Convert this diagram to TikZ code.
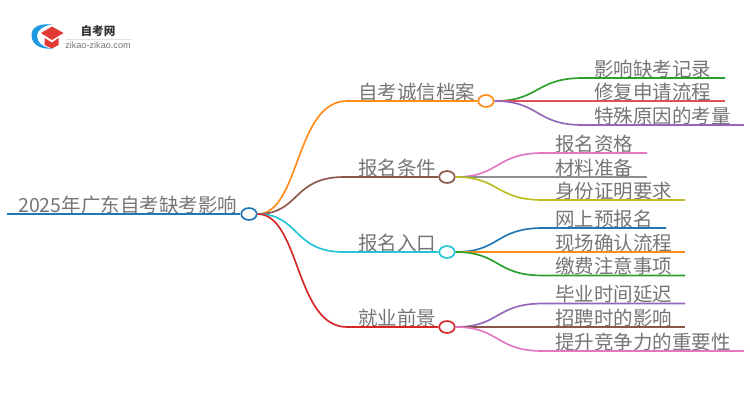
\documentclass[tikz,border=0pt]{standalone}
\usepackage{fontspec}
\setmainfont{Noto Sans CJK SC}
\newfontfamily\latinfont{Liberation Sans}
\usetikzlibrary{shapes.geometric}
\definecolor{txtgray}{HTML}{757575}
\definecolor{cblue}{HTML}{1F78B4}
\definecolor{corange}{HTML}{FF8C1A}
\definecolor{cbrown}{HTML}{8C564B}
\definecolor{cteal}{HTML}{22C4D8}
\definecolor{cred}{HTML}{D62728}
\definecolor{cgreen}{HTML}{2CA02C}
\definecolor{cpurple}{HTML}{9467BD}
\definecolor{cpink}{HTML}{E377C2}
\definecolor{cgray}{HTML}{8F8F8F}
\definecolor{colive}{HTML}{BCBD22}
\definecolor{logoblue}{HTML}{1E9BE0}
\definecolor{logored}{HTML}{E23B36}
\tikzset{
  hub/.style={draw=#1, fill=white, ellipse, line width=0.95pt, minimum width=8.8pt, minimum height=6.8pt, inner sep=0pt},
  lbl/.style={anchor=base west, inner sep=0pt, text=txtgray, font=\fontsize{11.1pt}{12pt}\selectfont},
  link/.style={draw=#1, line width=0.95pt},
}

\begin{document}
\begin{tikzpicture}[x=0.02cm, y=-0.02cm]
  \useasboundingbox (0,0) rectangle (750,410);

  % Logo
  \fill[logoblue] (52,24.5) .. controls (38,23) and (31,28) .. (31.5,36) .. controls (32,44) and (40,50) .. (53,48.5) .. controls (44,48) and (37,43) .. (37,36) .. controls (37,30) and (43,26) .. (52,24.5) -- cycle;
  \fill[logored] (52,26.5) -- (63.5,33) -- (52,40) -- (41,33) -- cycle;
  \fill[logored] (44.5,38) -- (52,42.5) -- (58.5,38) -- (58.5,45) -- (52,48.5) -- (44.5,45) -- cycle;
  \node[inner sep=0pt, text=black!80, font=\fontsize{6.6pt}{7pt}\selectfont\bfseries] (logotitle) at (98,31) {自考网};
  \node[inner sep=0pt, text=txtgray, font=\fontsize{5.2pt}{6pt}\selectfont\latinfont] (logosub) at (98,45) {zikao-zikao.com};
  \draw[black!12, line width=0.3pt] (66,39) -- (131,39);

  % Root
  \coordinate (rootstart) at (7,214);
  \node[hub=cblue] (root) at (249,214) {};
  \node[lbl] (roottxt) at (18,212) {2025年广东自考缺考影响};
  \draw[link=cblue] (rootstart) -- (root);

  % Branch nodes
  \node[hub=corange] (dangan) at (486,101) {};
  \node[hub=cbrown] (tiaojian) at (447,177) {};
  \node[hub=cteal] (rukou) at (447,252) {};
  \node[hub=cred] (jiuye) at (447,327) {};
  \node[lbl] (dangantxt) at (358,99) {自考诚信档案};
  \node[lbl] (tiaojiantxt) at (358,175) {报名条件};
  \node[lbl] (rukoutxt) at (358,250) {报名入口};
  \node[lbl] (jiuyetxt) at (358,325) {就业前景};
  \coordinate (danganknee) at (347,101);
  \coordinate (tiaojianknee) at (344,177);
  \coordinate (rukouknee) at (344,252);
  \coordinate (jiuyeknee) at (347,327);
  \draw[link=corange] (root.east) .. controls (300,214) and (295,101) .. (danganknee) -- (dangan);
  \draw[link=cbrown] (root.east) .. controls (300,214) and (292,177) .. (tiaojianknee) -- (tiaojian);
  \draw[link=cteal] (root.east) .. controls (300,214) and (292,252) .. (rukouknee) -- (rukou);
  \draw[link=cred] (root.east) .. controls (300,214) and (295,327) .. (jiuyeknee) -- (jiuye);

  % Leaves of the first branch
  \node[lbl] (a1) at (594,76) {影响缺考记录};
  \node[lbl] (a2) at (594,99) {修复申请流程};
  \node[lbl] (a3) at (594,123) {特殊原因的考量};
  \coordinate (a1k) at (583,78);
  \coordinate (a2k) at (583,101);
  \coordinate (a3k) at (583,125);
  \coordinate (a1e) at (725,78);
  \coordinate (a2e) at (725,101);
  \coordinate (a3e) at (744,125);
  \draw[link=cgreen] (dangan.east) .. controls (540,101) and (535,78) .. (a1k) -- (a1e);
  \draw[link=cred!80] (dangan.east) -- (a2k) -- (a2e);
  \draw[link=cpurple] (dangan.east) .. controls (540,101) and (535,125) .. (a3k) -- (a3e);

  % Leaves of the second branch
  \node[lbl] (b1) at (555,151) {报名资格};
  \node[lbl] (b2) at (555,175) {材料准备};
  \node[lbl] (b3) at (555,198) {身份证明要求};
  \coordinate (b1k) at (543,153);
  \coordinate (b2k) at (543,177);
  \coordinate (b3k) at (543,200);
  \coordinate (b1e) at (647,153);
  \coordinate (b2e) at (647,177);
  \coordinate (b3e) at (685,200);
  \draw[link=cpink] (tiaojian.east) .. controls (500,177) and (495,153) .. (b1k) -- (b1e);
  \draw[link=cgray] (tiaojian.east) -- (b2k) -- (b2e);
  \draw[link=colive] (tiaojian.east) .. controls (500,177) and (495,200) .. (b3k) -- (b3e);

  % Leaves of the third branch
  \node[lbl] (c1) at (555,226) {网上预报名};
  \node[lbl] (c2) at (555,250) {现场确认流程};
  \node[lbl] (c3) at (555,273) {缴费注意事项};
  \coordinate (c1k) at (543,228);
  \coordinate (c2k) at (543,252);
  \coordinate (c3k) at (543,275.5);
  \coordinate (c1e) at (666,228);
  \coordinate (c2e) at (685,252);
  \coordinate (c3e) at (685,275.5);
  \draw[link=cblue] (rukou.east) .. controls (500,252) and (495,228) .. (c1k) -- (c1e);
  \draw[link=corange] (rukou.east) -- (c2k) -- (c2e);
  \draw[link=cgreen] (rukou.east) .. controls (500,252) and (495,275.5) .. (c3k) -- (c3e);

  % Leaves of the fourth branch
  \node[lbl] (d1) at (555,301.5) {毕业时间延迟};
  \node[lbl] (d2) at (555,325) {招聘时的影响};
  \node[lbl] (d3) at (555,349) {提升竞争力的重要性};
  \coordinate (d1k) at (543,303.5);
  \coordinate (d2k) at (543,327);
  \coordinate (d3k) at (543,351);
  \coordinate (d1e) at (685,303.5);
  \coordinate (d2e) at (685,327);
  \coordinate (d3e) at (744,351);
  \draw[link=cpurple] (jiuye.east) .. controls (500,327) and (495,303.5) .. (d1k) -- (d1e);
  \draw[link=cbrown] (jiuye.east) -- (d2k) -- (d2e);
  \draw[link=cpink] (jiuye.east) .. controls (500,327) and (495,351) .. (d3k) -- (d3e);

\end{tikzpicture}
\end{document}
